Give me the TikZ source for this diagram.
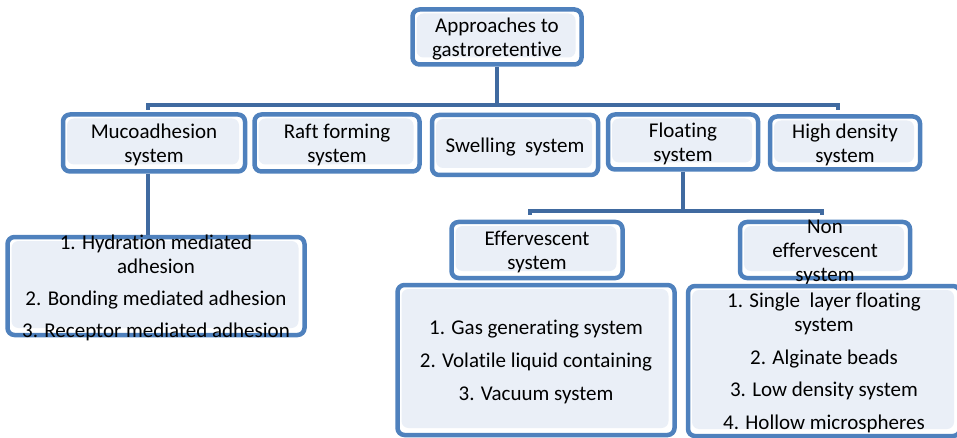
\documentclass[tikz,border=0pt]{standalone}
\usepackage{fontspec}
\setmainfont{Carlito}[Ligatures=NoCommon]
\usepackage{tikz}
\pgfdeclarelayer{background}
\pgfsetlayers{background,main}
\definecolor{boxblue}{RGB}{79,129,189}
\definecolor{linkblue}{RGB}{64,106,160}
\definecolor{boxfill}{RGB}{234,239,247}
\tikzstyle{box}=[draw=boxblue, line width=4.5pt
,rounded corners=7pt
,fill=white
,inner sep=0pt
,path picture={\fill[boxfill] ([shift={(4pt,7pt)}]path picture bounding box.south west) rectangle ([shift={(-6pt,-4pt)}]path picture bounding box.north east);}
]
\tikzstyle{caption}=[align=center, inner sep=0pt, font=\fontsize{21}{24}\selectfont]
\tikzstyle{link}=[draw=linkblue, line width=4.5pt]

\begin{document}
\begin{tikzpicture}[x=1pt,y=-1pt]
    \useasboundingbox (0,0) rectangle (957,438);
    % Boxes first, each with its text laid on top
    \foreach \pos/\w/\h/\name/\txt in {{(497,37)/169/55/main/{Approaches to\\gastroretentive}},
        {(154,143)/182/57/muco/{Mucoadhesion\\system}}, {(337,143)/165/57/raft/{Raft forming\\system}},
        {(515,145)/166/60/swell/{Swelling\ \ system}}, {(683,142)/150/55/float/{Floating\\system}},
        {(845,143)/150/53/high/{High density\\system}},
        {(537,250)/171/56/eff/{Effervescent\\system}}, {(825,250)/170/56/noneff/{Non\\effervescent\\system}},
        {(156,286)/297/98/mucolist/{1. Hydration mediated\\adhesion\\[8pt]2. Bonding mediated adhesion\\[8pt]3. Receptor mediated adhesion}},
        {(536,360)/277/150/efflist/{1. Gas generating system\\[9pt]2. Volatile liquid containing\\[9pt]3. Vacuum system}},
        {(824,361)/272/150/noneflist/{1. Single\ \ layer floating\\system\\[9pt]2. Alginate beads\\[8pt]3. Low density system\\[9pt]4. Hollow microspheres}}}
    {
        \node[box, minimum width=\w, minimum height=\h] (\name) at \pos {};
        \node[caption] (\name-t) at ([yshift=-2pt]\name) {\txt};
    }

    % Connect boxes with lines
    \coordinate (busL) at (148,105);
    \coordinate (busR) at (838,105);
    \coordinate (subL) at (530,211);
    \coordinate (subR) at (822,211);
    \begin{pgfonlayer}{background}
        \path[link] (main) -- (main |- busL);
        \path[link] ([yshift=-5pt]busL) -- (busL) -- (busR) -- ([yshift=-5pt]busR);
        \path[link] (busL |- muco.south) -- (busL |- mucolist.north);
        \path[link] (float) -- (float |- subL);
        \path[link] ([yshift=-4pt]subL) -- (subL) -- (subR) -- ([yshift=-4pt]subR);
    \end{pgfonlayer}
\end{tikzpicture}
\end{document}
